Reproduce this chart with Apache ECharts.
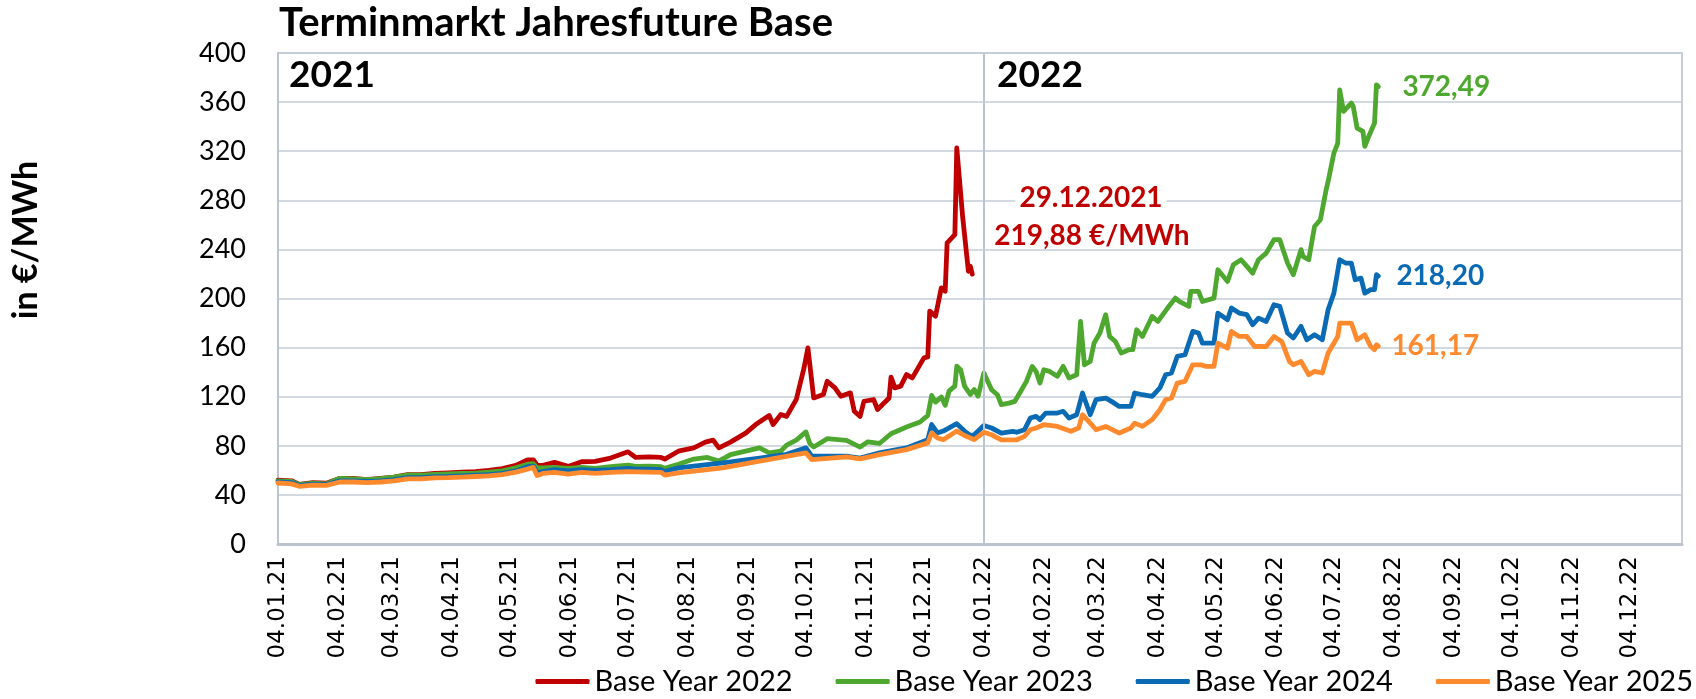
<!DOCTYPE html>
<html><head><meta charset="utf-8">
<script src="https://cdn.jsdelivr.net/npm/echarts@6/dist/echarts.min.js"></script>
<style>html,body{margin:0;padding:0;background:#fff}#c{width:1696px;height:699px}</style>
</head><body><div id="c"></div><script>
// ---------- DATA ----------
const tickLabels = ['04.01.21','04.02.21','04.03.21','04.04.21','04.05.21','04.06.21','04.07.21','04.08.21','04.09.21','04.10.21','04.11.21','04.12.21',
  '04.01.22','04.02.22','04.03.22','04.04.22','04.05.22','04.06.22','04.07.22','04.08.22','04.09.22','04.10.22','04.11.22','04.12.22'];
const seriesNames = ['Base Year 2022','Base Year 2023','Base Year 2024','Base Year 2025'];

const datesEarly = ['2021-01-04','2021-01-11','2021-01-15','2021-01-22','2021-01-29','2021-02-05','2021-02-12','2021-02-19','2021-02-26',
  '2021-03-05','2021-03-12','2021-03-19','2021-03-26','2021-04-02','2021-04-09','2021-04-16','2021-04-23','2021-04-30',
  '2021-05-07','2021-05-13','2021-05-16','2021-05-18','2021-05-21','2021-05-27','2021-06-03','2021-06-10','2021-06-17','2021-06-25',
  '2021-07-04','2021-07-08','2021-07-15','2021-07-21','2021-07-23','2021-07-30'];

const by2022Early = [52,51.5,48.5,50,49.5,53.5,53.5,52.5,53.5,54.5,56.5,56.5,57.5,58,58.5,59,60,61.5,64,68.5,68.6,64.3,64,66.5,63.2,67,67.3,70,75.1,70.5,71,70.5,69.2,75.6];
const by2022LateDates = ['2021-08-07','2021-08-13','2021-08-17','2021-08-20','2021-08-26','2021-09-03','2021-09-08','2021-09-15','2021-09-17','2021-09-21','2021-09-24','2021-09-29',
  '2021-10-03','2021-10-05','2021-10-08','2021-10-13','2021-10-15','2021-10-19','2021-10-22','2021-10-27','2021-10-29',
  '2021-11-01','2021-11-03','2021-11-08','2021-11-10','2021-11-16','2021-11-17','2021-11-19','2021-11-22','2021-11-25','2021-11-28',
  '2021-12-04','2021-12-06','2021-12-07','2021-12-10','2021-12-13','2021-12-15','2021-12-16','2021-12-20','2021-12-21','2021-12-22','2021-12-24','2021-12-27','2021-12-28','2021-12-29'];
const by2022Late = [78.3,83,84.6,78.3,83,90.5,97.3,104.7,97.3,105.5,104,117.7,143.5,159.8,119,121.8,132.6,127.2,120.4,123.1,108.2,
  104,116.3,117.7,109.6,119,136,127.2,128.6,138,135.3,151.6,152.4,189.7,185.6,208.7,206,245.3,252.1,322.7,324,267,222.2,226.3,219.88];

const by2023Early = [51.5,51,48.3,49.5,49,53.5,53,52.5,53.2,54.5,56.2,56,56.8,57.2,57.5,57.8,58.5,59.5,62,65,65.5,62,62,62.4,61.5,62.5,61.6,63,64.3,63.2,63.5,63,61.6,65];
const by2023LateDates = ['2021-08-07','2021-08-14','2021-08-20','2021-08-26','2021-09-10','2021-09-15','2021-09-21','2021-09-24','2021-09-29','2021-10-04','2021-10-06','2021-10-08','2021-10-15','2021-10-25',
  '2021-11-01','2021-11-05','2021-11-11','2021-11-17','2021-11-25','2021-12-02','2021-12-06','2021-12-08','2021-12-10','2021-12-13','2021-12-15','2021-12-17','2021-12-20','2021-12-21','2021-12-23','2021-12-25','2021-12-28','2021-12-30',
  '2022-01-01','2022-01-04','2022-01-08','2022-01-11','2022-01-13','2022-01-17','2022-01-20','2022-01-23','2022-01-26','2022-01-29','2022-01-31',
  '2022-02-02','2022-02-04','2022-02-07','2022-02-11','2022-02-14','2022-02-17','2022-02-21','2022-02-23','2022-02-25','2022-02-28',
  '2022-03-02','2022-03-05','2022-03-08','2022-03-10','2022-03-13','2022-03-16','2022-03-20','2022-03-22','2022-03-24','2022-03-27',
  '2022-04-01','2022-04-04','2022-04-09','2022-04-13','2022-04-15','2022-04-20','2022-04-21','2022-04-25','2022-04-27',
  '2022-05-03','2022-05-05','2022-05-10','2022-05-13','2022-05-17','2022-05-20','2022-05-23','2022-05-26','2022-05-30',
  '2022-06-03','2022-06-06','2022-06-10','2022-06-13','2022-06-17','2022-06-18','2022-06-21','2022-06-24','2022-06-27','2022-06-30',
  '2022-07-01','2022-07-04','2022-07-06','2022-07-07','2022-07-09','2022-07-13','2022-07-14','2022-07-16','2022-07-19','2022-07-20','2022-07-22','2022-07-25','2022-07-26','2022-07-27'];
const by2023Late = [69.2,70.5,67.5,72.8,78.3,74.2,75.6,80.6,84.6,91.3,81.9,79,85.8,84.5,
  79,83.2,81.9,89.8,95.3,99.4,104.8,121,115.6,119.8,113,124.5,128.6,144.8,142,128.6,121.8,125.8,
  120.4,139.3,125.7,121.6,113.5,114.8,116.2,124.3,132.5,144.7,140.6,
  131.1,142,140.6,136.6,144.7,135.2,137.9,181.3,146,148.8,
  163.7,171.9,186.8,169.1,165,155.6,158.3,158.3,174.5,169.1,
  185.4,181.3,192.2,200.3,197.6,193.6,205.8,205.8,197.6,
  200.3,223.4,213.9,227.5,231.6,226.2,220.7,231.6,237,
  247.9,247.9,228.9,219.4,239.8,234.3,231.6,258.7,264.2,288.6,
  295.4,318.5,326.6,370,352.4,359.2,356.5,338.8,336.1,323.9,332,342.9,374.1,372.49];

const by2024Early = [50.5,50,47.8,48.8,48.5,51.5,51.5,51,51.5,52.5,54,54,54.8,55,55.5,56,56.5,57.5,59.5,63,63.5,58,59,60.5,59.5,60.5,60,60.5,61.5,61,61,60.5,59,62];
const by2024LateDates = ['2021-08-22','2021-09-10','2021-09-24','2021-10-04','2021-10-07','2021-10-25','2021-11-01','2021-11-11','2021-11-25',
  '2021-12-06','2021-12-08','2021-12-11','2021-12-14','2021-12-21','2021-12-25','2021-12-28','2021-12-30',
  '2022-01-04','2022-01-08','2022-01-13','2022-01-19','2022-01-21','2022-01-25','2022-01-28','2022-01-31',
  '2022-02-02','2022-02-05','2022-02-11','2022-02-14','2022-02-17','2022-02-21','2022-02-24','2022-02-28',
  '2022-03-03','2022-03-08','2022-03-11','2022-03-15','2022-03-21','2022-03-23','2022-03-27',
  '2022-04-01','2022-04-05','2022-04-08','2022-04-11','2022-04-14','2022-04-18','2022-04-22','2022-04-25','2022-04-27',
  '2022-05-03','2022-05-05','2022-05-10','2022-05-12','2022-05-16','2022-05-20','2022-05-23','2022-05-26','2022-05-30',
  '2022-06-03','2022-06-06','2022-06-10','2022-06-13','2022-06-17','2022-06-20','2022-06-24','2022-06-28',
  '2022-07-01','2022-07-04','2022-07-07','2022-07-10','2022-07-13','2022-07-15','2022-07-18','2022-07-20','2022-07-23','2022-07-25','2022-07-26','2022-07-27'];
const by2024Late = [66,70,73,78.3,71.5,71.5,70,74.2,78.3,
  85,97.3,90.5,92,98,92,88.5,89,
  96.5,94.5,90.4,91.8,91,93.1,102.6,104,
  101.3,106.7,106.7,108.1,102.6,105.3,123,105.3,
  117.6,118.9,116.2,112.1,112.1,123,121.6,
  120.3,127.1,137.9,139.3,152.8,154.2,173.2,171.9,163.7,
  163.7,188.1,182.7,192.2,188.1,186.8,178.6,184,181.3,
  194.9,193.6,171.9,167.8,177.3,166.4,170.5,166.4,
  190.8,204.4,231.6,228.9,228.9,215.3,216.6,204.4,207.2,207.2,219.4,218.2];

const by2025Early = [49.7,49,47,48,47.8,50.5,50.5,50,50.5,51.5,53,53,53.8,54,54.5,55,55.5,56.5,58.5,61,62.4,55.7,57.5,58.4,57,58.4,57.6,58.4,59,58.8,58.5,58.4,56.2,58];
const by2025LateDates = ['2021-08-22','2021-09-10','2021-10-04','2021-10-07','2021-10-25','2021-11-01','2021-11-11','2021-11-25',
  '2021-12-06','2021-12-08','2021-12-11','2021-12-14','2021-12-21','2021-12-25','2021-12-30',
  '2022-01-04','2022-01-08','2022-01-13','2022-01-21','2022-01-25','2022-01-28','2022-01-31',
  '2022-02-04','2022-02-11','2022-02-18','2022-02-22','2022-02-24','2022-02-28',
  '2022-03-03','2022-03-08','2022-03-15','2022-03-21','2022-03-23','2022-03-27',
  '2022-04-01','2022-04-05','2022-04-08','2022-04-11','2022-04-14','2022-04-18','2022-04-22','2022-04-26','2022-04-29',
  '2022-05-03','2022-05-05','2022-05-10','2022-05-12','2022-05-16','2022-05-20','2022-05-24','2022-05-30',
  '2022-06-03','2022-06-07','2022-06-11','2022-06-13','2022-06-17','2022-06-21','2022-06-24','2022-06-28',
  '2022-07-01','2022-07-06','2022-07-07','2022-07-13','2022-07-16','2022-07-20','2022-07-23','2022-07-25','2022-07-26','2022-07-27'];
const by2025Late = [62,67.5,74.2,68.8,71,69.4,72.8,76.9,
  82.4,90.5,86.4,85,92,88.4,85,
  91,89,84.9,84.9,87.7,93.1,94.5,
  97.2,95.8,91.8,94.5,105.3,98.5,
  93.1,95.8,90.4,94.5,98.5,95.8,
  101.3,109.4,117.6,118.9,131.1,132.5,146,146,144.7,
  144.7,163.7,159.6,173.2,169.1,169.1,160.9,160.9,
  169.1,165,148.8,146,148.8,137.9,140.6,139.3,
  155.6,169.1,180,180,166.4,170.5,160.9,158.3,162.3,161.17];

const axisStart = '2021-01-04';
const axisEnd = '2022-12-31';
const separatorDate = '2022-01-04';
const annoDate = '29.12.2021';
const annoValue = '219,88 €/MWh';

// ---------- BUILD ----------
function ts(s){ const p=s.split('-'); return new Date(+p[0], +p[1]-1, +p[2]).getTime(); }
function zip(d, v){ return d.map((x,i)=>[ts(x), v[i]]); }
function parseTick(s){ const p=s.split('.'); return new Date(2000+ +p[2], +p[1]-1, +p[0]).getTime(); }
const tickValues = tickLabels.map(parseTick);
function fmt(t){ const d=new Date(t); const p=n=>String(n).padStart(2,'0'); return p(d.getDate())+'.'+p(d.getMonth()+1)+'.'+p(d.getFullYear()%100); }

const colors = ['#C00000','#4EA72E','#0A6AB4','#FF8A2E'];
const sData = [
  zip(datesEarly.concat(by2022LateDates), by2022Early.concat(by2022Late)),
  zip(datesEarly.concat(by2023LateDates), by2023Early.concat(by2023Late)),
  zip(datesEarly.concat(by2024LateDates), by2024Early.concat(by2024Late)),
  zip(datesEarly.concat(by2025LateDates), by2025Early.concat(by2025Late))
];
const endDist = [0, 24, 18, 13];

const chart = echarts.init(document.getElementById('c'), null, {renderer:'canvas'});
const gridColor = '#C5CDD7';
chart.setOption({
  animation:false,
  backgroundColor:'#fff',
  color: colors,
  grid:{left:278, right:14, top:53, bottom:155, show:true, borderColor:gridColor, borderWidth:2, containLabel:false},
  xAxis:{
    type:'value',
    min: ts(axisStart),
    max: ts(axisEnd),
    axisLine:{show:true, onZero:false, lineStyle:{color:'#BCC5CF', width:3}},
    axisTick:{show:false},
    splitLine:{show:false},
    axisLabel:{
      customValues: tickValues,
      rotate:90, margin:12, color:'#000',
      fontFamily:'DejaVu Sans', fontSize:23,
      formatter:(v)=>fmt(v),
      showMinLabel:true, showMaxLabel:true
    }
  },
  yAxis:{
    type:'value', min:0, max:400, interval:40,
    axisLine:{show:true, lineStyle:{color:'#BCC5CF', width:2}},
    axisTick:{show:false},
    splitLine:{show:true, lineStyle:{color:gridColor, width:1.5}},
    axisLabel:{color:'#000', fontFamily:'Lato', fontSize:27, margin:32}
  },
  legend:{
    data: seriesNames, right:3, top:667, padding:0, icon:'roundRect', itemWidth:54, itemHeight:5, itemGap:43,
    textStyle:{color:'#000', fontFamily:'Lato', fontSize:29}
  },
  series: seriesNames.map((n,i)=>({
    name:n, type:'line', data:sData[i], showSymbol:false, symbol:'none',
    lineStyle:{width:4.8, color:colors[i], cap:'round', join:'round'},
    itemStyle:{color:colors[i]},
    z: 2+i,
    endLabel: i===0 ? {show:false} : {
      show:true, distance:endDist[i], color:colors[i], fontFamily:'Lato', fontWeight:'bold', fontSize:28,
      formatter:(p)=>p.value[1].toFixed(2).replace('.',',')
    },
    markLine: i===0 ? {
      silent:true, symbol:['none','none'], label:{show:false},
      lineStyle:{color:'#BCC5CF', width:2, type:'solid'},
      data:[{xAxis: ts(separatorDate)}]
    } : undefined
  })),
  graphic:[
    {type:'text', left:279, top:3, style:{text:'Terminmarkt Jahresfuture Base', font:'bold 40px Lato', fill:'#000'}},
    {type:'text', x:26, y:240, rotation:Math.PI/2, style:{text:'in €/MWh', font:'bold 34px Lato', fill:'#000', align:'center', verticalAlign:'middle'}},
    {type:'text', x:289, y:75, style:{text:'2021', font:'bold 37px Lato', fill:'#000', verticalAlign:'middle'}},
    {type:'text', x:997, y:75, style:{text:'2022', font:'bold 37px Lato', fill:'#000', verticalAlign:'middle'}},
    {type:'text', x:1091, y:198, z:10, style:{text:annoDate, font:'bold 28px Lato', fill:'#C00000', align:'center', verticalAlign:'middle', backgroundColor:'#fff', padding:[2,4]}},
    {type:'text', x:1092, y:236, z:10, style:{text:annoValue, font:'bold 28px Lato', fill:'#C00000', align:'center', verticalAlign:'middle'}}
  ]
});
</script></body></html>
